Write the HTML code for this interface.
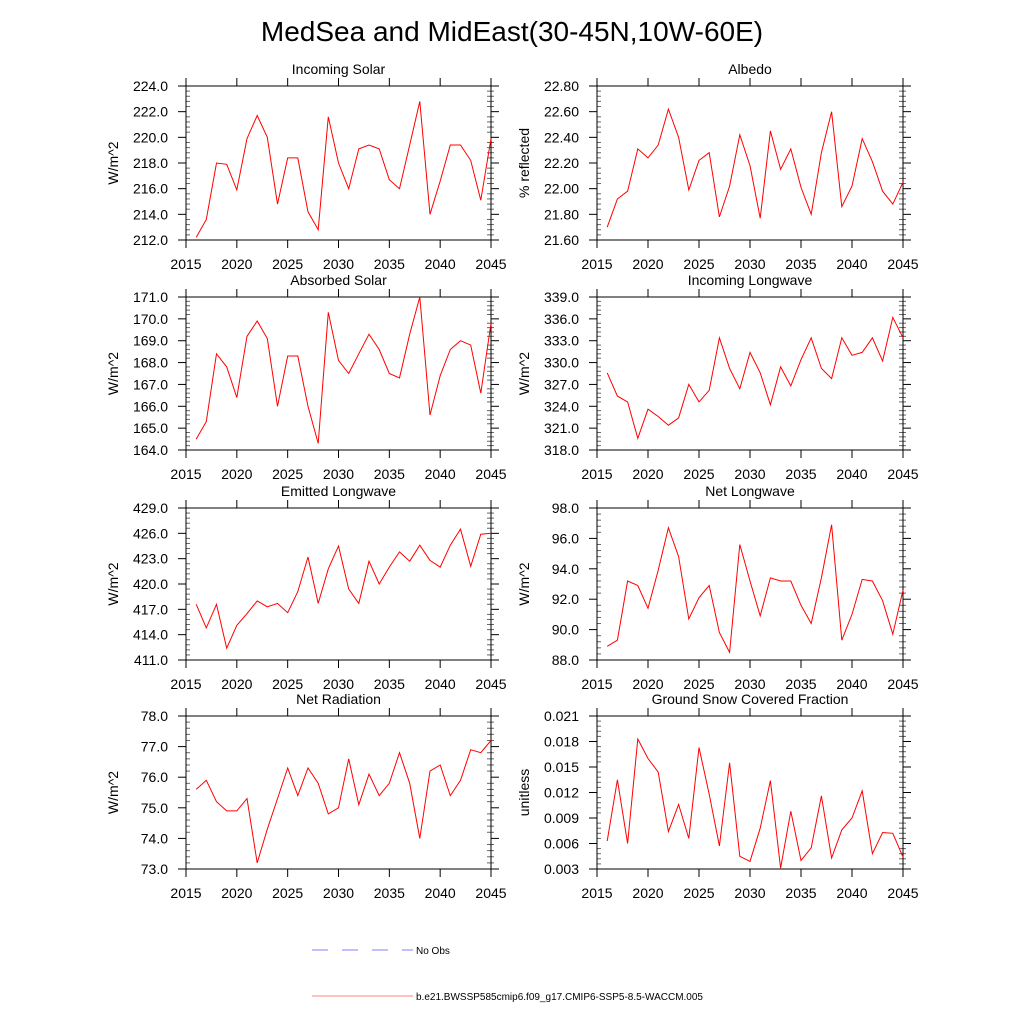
<!DOCTYPE html>
<html><head><meta charset="utf-8"><style>
body{margin:0;background:#fff;}
svg text{font-family:"Liberation Sans",sans-serif;}
</style></head><body>
<svg id="chart" width="1024" height="1024" viewBox="0 0 1024 1024" xmlns="http://www.w3.org/2000/svg">
<rect width="1024" height="1024" fill="#fff"/>
<text x="512" y="41" font-size="28" text-anchor="middle">MedSea and MidEast(30-45N,10W-60E)</text>
<g id="panels"></g>
<g>
<line x1="312" y1="950" x2="413" y2="950" stroke="#8080ff" stroke-width="1" stroke-dasharray="16,14"/>
<text x="416" y="954" font-size="10">No Obs</text>
<line x1="312" y1="996" x2="413" y2="996" stroke="#ff8080" stroke-width="1"/>
<text x="416" y="1000" font-size="10">b.e21.BWSSP585cmip6.f09_g17.CMIP6-SSP5-8.5-WACCM.005</text>
</g>
</svg>
<script>
const years = [2016,2017,2018,2019,2020,2021,2022,2023,2024,2025,2026,2027,2028,2029,2030,2031,2032,2033,2034,2035,2036,2037,2038,2039,2040,2041,2042,2043,2044,2045];
const xTicks = [2015,2020,2025,2030,2035,2040,2045];
const incomingSolar = [212.2,213.6,218.0,217.9,215.9,219.9,221.7,220.0,214.8,218.4,218.4,214.2,212.8,221.6,218.0,216.0,219.1,219.4,219.1,216.7,216.0,219.4,222.8,214.0,216.6,219.4,219.4,218.2,215.1,219.9];
const albedo = [21.70,21.92,21.98,22.31,22.24,22.34,22.62,22.40,21.99,22.22,22.28,21.78,22.02,22.42,22.18,21.77,22.45,22.15,22.31,22.01,21.80,22.28,22.60,21.86,22.02,22.39,22.21,21.98,21.88,22.05];
const absorbedSolar = [164.5,165.3,168.4,167.8,166.4,169.2,169.9,169.1,166.0,168.3,168.3,166.0,164.3,170.3,168.1,167.5,168.4,169.3,168.6,167.5,167.3,169.3,171.0,165.6,167.4,168.6,169.0,168.8,166.6,169.8];
const incomingLW = [328.6,325.4,324.6,319.6,323.6,322.6,321.4,322.4,327.0,324.6,326.2,333.4,329.2,326.4,331.4,328.6,324.2,329.4,326.8,330.4,333.4,329.2,327.8,333.4,331.0,331.4,333.4,330.2,336.2,333.4];
const emittedLW = [417.6,414.8,417.6,412.4,415.1,416.5,418.0,417.3,417.7,416.6,419.1,423.2,417.7,421.8,424.5,419.4,417.7,422.7,420.0,422.0,423.8,422.7,424.6,422.8,422.0,424.6,426.5,422.1,425.9,426.0];
const netLW = [88.9,89.3,93.2,92.9,91.4,93.9,96.7,94.8,90.7,92.1,92.9,89.8,88.5,95.6,93.2,90.9,93.4,93.2,93.2,91.6,90.4,93.4,96.9,89.3,91.0,93.3,93.2,91.9,89.7,92.6];
const netRad = [75.6,75.9,75.2,74.9,74.9,75.3,73.2,74.3,75.3,76.3,75.4,76.3,75.8,74.8,75.0,76.6,75.1,76.1,75.4,75.8,76.8,75.8,74.0,76.2,76.4,75.4,75.9,76.9,76.8,77.2];
const snowFrac = [0.0063,0.0135,0.0060,0.0183,0.0160,0.0144,0.0074,0.0106,0.0066,0.0173,0.0118,0.0057,0.0155,0.0045,0.0039,0.0078,0.0134,0.0031,0.0098,0.0040,0.0055,0.0116,0.0043,0.0076,0.0090,0.0122,0.0048,0.0073,0.0072,0.0044];
const ticksIS = [212,214,216,218,220,222,224];
const ticksAlb = [21.6,21.8,22.0,22.2,22.4,22.6,22.8];
const ticksAbs = [164,165,166,167,168,169,170,171];
const ticksILW = [318,321,324,327,330,333,336,339];
const ticksELW = [411,414,417,420,423,426,429];
const ticksNLW = [88,90,92,94,96,98];
const ticksNR = [73,74,75,76,77,78];
const ticksSnow = [0.003,0.006,0.009,0.012,0.015,0.018,0.021];

const panels = [
 {name:'incoming-solar',title:'Incoming Solar',ylab:'W/m^2',data:incomingSolar,ticks:ticksIS,dec:1,col:0,row:0},
 {name:'albedo',title:'Albedo',ylab:'% reflected',data:albedo,ticks:ticksAlb,dec:2,col:1,row:0},
 {name:'absorbed-solar',title:'Absorbed Solar',ylab:'W/m^2',data:absorbedSolar,ticks:ticksAbs,dec:1,col:0,row:1},
 {name:'incoming-longwave',title:'Incoming Longwave',ylab:'W/m^2',data:incomingLW,ticks:ticksILW,dec:1,col:1,row:1},
 {name:'emitted-longwave',title:'Emitted Longwave',ylab:'W/m^2',data:emittedLW,ticks:ticksELW,dec:1,col:0,row:2},
 {name:'net-longwave',title:'Net Longwave',ylab:'W/m^2',data:netLW,ticks:ticksNLW,dec:1,col:1,row:2},
 {name:'net-radiation',title:'Net Radiation',ylab:'W/m^2',data:netRad,ticks:ticksNR,dec:1,col:0,row:3},
 {name:'ground-snow-fraction',title:'Ground Snow Covered Fraction',ylab:'unitless',data:snowFrac,ticks:ticksSnow,dec:3,col:1,row:3}
];
const colX=[[186,491],[597,903]];
const rowY=[[86,240],[297,450],[508,660],[716,869]];
const NS='http://www.w3.org/2000/svg';
const root=document.getElementById('panels');
function mk(tag,attrs,parent){const e=document.createElementNS(NS,tag);for(const k in attrs)e.setAttribute(k,attrs[k]);parent.appendChild(e);return e;}
panels.forEach(p=>{
 const [x0,x1]=colX[p.col],[y0,y1]=rowY[p.row];
 const ymin=p.ticks[0],ymax=p.ticks[p.ticks.length-1];
 const sx=v=>x0+(v-2015)/(2045-2015)*(x1-x0);
 const sy=v=>y1-(v-ymin)/(ymax-ymin)*(y1-y0);
 const g=mk('g',{},root);
 
 
 const t=mk('text',{x:(x0+x1)/2,y:y0-12,'font-size':14,'text-anchor':'middle'},g);
 
 
 t.textContent=p.title;
 const yl=mk('text',{x:0,y:0,'font-size':14,'text-anchor':'middle',transform:`translate(${x0-68},${(y0+y1)/2}) rotate(-90)`},g);
 
 
 yl.textContent=p.ylab;
 xTicks.forEach(v=>{
  const x=sx(v);
  mk('line',{x1:x,x2:x,y1:y1,y2:y1+8,stroke:'#000','stroke-width':1},g);
  mk('line',{x1:x,x2:x,y1:y0,y2:y0-8,stroke:'#000','stroke-width':1},g);
  const tl=mk('text',{x:x,y:y1+29,'font-size':14,'text-anchor':'middle'},g);
  
  
  tl.textContent=v;
 });
 p.ticks.forEach((v,i)=>{
  const y=sy(v);
  mk('line',{x1:x0-8,x2:x0,y1:y,y2:y,stroke:'#000','stroke-width':1},g);
  mk('line',{x1:x1,x2:x1+8,y1:y,y2:y,stroke:'#000','stroke-width':1},g);
  const tl=mk('text',{x:x0-18,y:y+5,'font-size':14,'text-anchor':'end'},g);
  
  
  tl.textContent=v.toFixed(p.dec);
  if(i<p.ticks.length-1){
   const step=(p.ticks[i+1]-v)/5;
   for(let k=1;k<5;k++){const ym=sy(v+step*k);
    mk('line',{x1:x0,x2:x0+4,y1:ym,y2:ym,stroke:'#666','stroke-width':1},g);
    mk('line',{x1:x1-4,x2:x1+3,y1:ym,y2:ym,stroke:'#666','stroke-width':1},g);}
  }
 });
 const box=mk('rect',{x:x0,y:y0,width:x1-x0,height:y1-y0,fill:'none',stroke:'#000','stroke-width':1},g);
 
 
 const pts=p.data.map((v,i)=>sx(years[i]).toFixed(1)+','+sy(v).toFixed(1)).join(' ');
 const line=mk('polyline',{points:pts,fill:'none',stroke:'#ff0000','stroke-width':1},g);
 
 
});
</script>
</body></html>
